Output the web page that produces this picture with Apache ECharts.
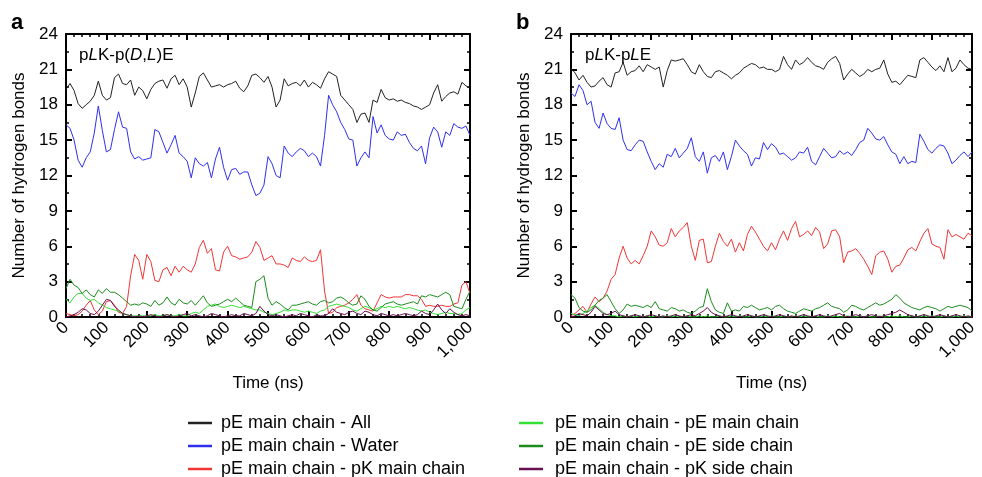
<!DOCTYPE html>
<html>
<head>
<meta charset="utf-8">
<script src="https://cdn.jsdelivr.net/npm/echarts@6/dist/echarts.min.js"></script>
<style>html,body{margin:0;padding:0;background:#fff}#c{width:982px;height:477px}</style>
</head>
<body>
<div id="c"></div>
<script>
// Time (ns)
var time = [0,10,20,30,40,50,60,70,80,90,100,110,120,130,140,150,160,170,180,190,200,210,220,230,240,250,260,270,280,290,300,310,320,330,340,350,360,370,380,390,400,410,420,430,440,450,460,470,480,490,500,510,520,530,540,550,560,570,580,590,600,610,620,630,640,650,660,670,680,690,700,710,720,730,740,750,760,770,780,790,800,810,820,830,840,850,860,870,880,890,900,910,920,930,940,950,960,970,980,990,1000];

var seriesNames = ['pE main chain - All','pE main chain - Water','pE main chain - pK main chain','pE main chain - pE main chain','pE main chain - pE side chain','pE main chain - pK side chain'];
var seriesColors = ['#222222','#2f2ff0','#f03535','#33e033','#1c8c1c','#6a1050'];

// Panel a: pLK-p(D,L)E
var aAll = [19.3,19.8,19.2,18.1,17.7,18.0,18.3,18.8,20.0,18.8,18.4,18.6,20.3,20.6,19.8,19.7,20.1,18.8,19.5,19.2,18.5,19.3,19.8,20.0,20.1,19.4,20.2,20.5,19.7,20.2,19.5,17.8,19.0,20.4,20.7,20.1,19.5,19.6,19.7,19.5,19.7,19.8,20.0,19.4,19.1,19.6,20.5,20.6,20.3,19.9,20.4,19.5,17.8,18.4,20.2,19.6,19.8,19.9,19.6,20.1,19.5,19.9,19.7,19.4,20.2,20.8,20.6,20.4,18.8,18.4,18.0,17.6,16.5,17.2,17.3,16.5,18.4,18.2,19.3,18.6,18.4,18.5,18.3,18.4,18.2,18.1,17.9,17.8,17.6,17.8,18.0,19.0,19.7,18.3,18.7,19.0,19.1,18.9,19.9,19.6,19.4];
var aWater = [16.3,16.0,15.0,13.3,12.7,13.5,14.0,15.6,17.9,15.8,14.0,14.2,15.9,17.4,16.1,16.0,14.0,13.4,13.6,13.3,13.4,13.5,15.9,15.7,14.8,13.9,14.6,15.4,13.9,13.6,13.2,11.8,13.5,13.0,12.8,13.1,11.8,13.4,14.4,12.7,11.6,12.5,12.6,12.1,12.3,12.3,11.2,10.3,10.5,11.2,13.6,13.0,12.0,11.8,14.5,13.9,13.6,14.0,14.3,14.1,13.6,13.9,13.6,12.8,15.4,18.8,18.0,17.4,16.5,15.9,15.1,15.0,12.8,13.5,14.0,13.5,17.0,15.6,16.3,15.4,15.1,15.0,15.7,15.4,15.5,14.8,14.3,14.1,14.5,13.0,15.2,16.1,15.7,14.4,15.7,15.4,16.4,16.1,16.0,16.2,15.4];
var aPKmain = [0.3,0.2,0.1,0.2,0.5,1.0,1.4,0.6,0.2,0.5,1.3,1.4,1.0,0.4,0.3,0.9,3.5,5.3,4.8,3.2,5.3,4.7,3.1,3.0,4.0,4.2,3.5,4.3,3.8,4.3,4.0,3.8,4.5,5.9,6.5,5.4,5.8,4.0,3.9,5.5,6.0,5.2,5.1,4.9,5.0,5.1,5.5,6.4,5.9,4.8,5.0,5.2,4.5,4.5,4.4,4.2,5.0,4.8,4.7,5.1,4.8,4.7,4.8,5.7,2.2,0.3,0.4,0.8,0.9,1.0,1.2,1.5,1.9,1.0,0.7,0.6,0.5,1.2,1.9,1.7,1.6,1.7,1.7,1.7,1.9,1.9,1.8,1.8,1.5,0.9,1.0,0.9,0.9,1.0,0.9,0.9,1.1,1.2,2.7,3.0,2.0];
var aPEmain = [1.5,1.2,1.7,2.0,2.0,1.6,1.4,1.5,1.2,1.0,0.8,0.7,0.6,0.5,0.3,0.2,0.1,0.1,0.1,0.1,0.1,0.1,0.2,0.1,0.1,0.2,0.1,0.1,0.2,0.1,0.1,0.3,0.4,0.3,0.6,0.9,1.0,1.1,0.9,0.8,0.9,1.0,0.9,0.8,0.9,0.8,0.7,0.6,0.6,0.4,0.3,0.2,0.3,0.4,0.6,0.5,0.6,0.6,0.5,0.4,0.5,0.4,0.3,0.5,0.6,0.9,1.0,1.1,1.0,0.9,0.8,0.6,0.5,0.7,0.9,0.8,0.6,0.7,0.9,0.8,0.9,0.8,0.9,0.8,0.7,0.8,0.7,0.6,0.5,0.6,0.4,0.3,0.2,0.3,0.4,0.3,0.3,0.2,0.3,0.6,0.8];
var aPEside = [2.4,3.2,2.7,2.5,2.0,2.3,1.9,1.7,2.3,2.0,2.4,2.1,2.1,1.9,1.6,1.3,1.0,1.1,1.0,1.2,1.1,0.9,1.4,1.0,1.2,1.7,1.2,1.0,1.5,1.2,1.1,1.4,1.0,1.4,1.8,1.2,0.9,1.0,1.1,1.3,1.5,1.3,1.6,1.3,1.0,0.9,0.8,3.0,3.2,3.5,1.6,1.0,1.3,1.1,0.8,0.6,1.0,1.0,1.1,1.2,1.3,1.1,1.0,1.3,1.4,1.2,1.3,1.6,1.7,1.5,1.2,1.0,1.1,1.8,1.5,0.9,0.6,0.5,0.8,1.1,1.2,1.3,1.1,1.0,1.1,1.2,1.3,1.1,1.8,1.7,1.9,1.8,1.7,1.9,2.1,1.9,0.9,0.8,0.7,1.5,2.2];
var aPKside = [0.0,0.1,0.2,0.4,0.7,0.6,0.3,0.2,0.5,1.0,1.5,1.4,0.9,0.6,0.3,0.2,0.1,0.0,0.1,0.0,0.1,0.2,0.1,0.0,0.1,0.2,0.1,0.0,0.1,0.2,0.3,0.1,0.2,0.1,0.0,0.1,0.3,0.2,0.1,0.0,0.1,0.2,0.1,0.1,0.3,0.2,0.1,0.3,0.9,0.5,0.2,0.1,0.2,0.1,0.0,0.1,0.2,0.1,0.3,0.2,0.1,0.0,0.2,0.1,0.1,0.3,0.7,0.4,0.3,0.2,0.4,0.5,0.3,0.2,0.5,0.4,0.2,0.1,0.3,0.2,0.1,0.2,0.1,0.2,0.3,0.2,0.1,0.2,0.5,0.3,0.2,0.6,1.1,0.6,0.3,0.7,0.4,0.2,0.1,0.2,0.1];

// Panel b: pLK-pLE
var bAll = [21.1,20.7,20.1,20.5,19.9,19.5,19.6,20.0,20.3,19.7,19.5,20.7,20.8,21.6,20.5,20.8,20.9,21.3,20.8,21.4,21.2,21.0,21.2,19.5,20.9,21.8,21.7,21.8,21.9,21.4,20.8,20.6,21.4,20.8,20.4,20.3,20.8,20.9,20.7,20.5,20.2,20.5,20.7,21.1,21.3,21.5,21.4,21.1,21.2,21.0,21.0,20.8,21.0,22.1,21.4,21.0,21.8,21.4,21.6,22.0,21.6,21.3,21.2,21.0,21.6,21.9,22.1,21.5,20.1,20.6,21.0,20.7,20.4,20.6,21.0,20.8,21.0,21.1,21.8,20.6,19.9,20.0,19.7,20.1,20.5,20.4,20.3,21.8,22.0,21.6,21.2,20.9,21.3,20.8,22.0,20.8,21.1,21.8,21.4,21.1,21.0];
var bWater = [19.0,18.7,19.7,19.2,18.0,18.3,16.5,16.0,17.3,16.4,16.0,15.9,16.9,15.0,14.2,14.1,14.6,15.0,14.9,14.0,13.2,12.5,13.0,12.7,13.8,13.6,14.3,13.5,13.9,14.3,15.2,13.6,13.2,14.0,12.2,13.5,13.7,13.2,14.0,12.5,13.6,15.0,14.5,14.1,13.8,12.8,13.5,13.4,14.8,14.2,14.7,14.4,13.8,13.9,13.6,13.3,13.5,14.0,13.9,14.4,13.2,12.9,13.6,14.3,13.9,13.5,13.6,14.1,13.8,14.0,13.7,14.2,14.8,15.0,16.0,15.6,15.1,15.0,15.3,14.6,14.0,13.8,13.0,13.6,13.0,13.2,13.1,15.5,14.9,14.2,13.9,14.3,14.6,14.5,13.9,13.0,13.3,13.7,14.0,13.6,14.0];
var bPKmain = [0.1,0.3,0.6,0.9,0.4,1.1,1.7,1.3,1.6,2.2,3.2,3.6,5.0,6.0,5.0,4.5,4.8,4.5,5.2,6.0,7.3,6.8,6.1,6.0,6.3,7.5,6.8,7.3,7.6,8.0,6.0,4.8,6.5,6.6,4.6,4.7,6.0,7.1,6.4,6.0,6.6,5.5,6.3,5.6,7.0,7.7,7.2,6.6,6.0,5.6,6.3,5.7,6.6,7.3,6.5,7.5,8.1,6.8,7.0,7.3,6.9,7.6,7.2,5.8,6.2,7.3,7.4,6.8,4.6,5.5,5.6,5.8,5.4,4.9,4.3,3.6,5.2,5.5,5.6,4.9,3.8,4.3,4.4,5.0,5.7,5.9,5.6,6.4,7.1,7.5,6.2,6.0,5.9,4.9,7.4,6.8,7.0,6.8,6.6,7.1,6.9];
var bPEmain = [0.3,0.2,0.1,0.3,0.5,0.8,1.0,0.7,0.4,0.2,0.1,0.1,0.0,0.1,0.0,0.1,0.0,0.1,0.0,0.1,0.0,0.1,0.0,0.0,0.1,0.0,0.1,0.0,0.0,0.1,0.0,0.0,0.1,0.0,0.1,0.0,0.0,0.1,0.0,0.0,0.1,0.0,0.1,0.0,0.0,0.1,0.0,0.0,0.1,0.0,0.1,0.0,0.0,0.1,0.0,0.0,0.1,0.0,0.1,0.0,0.0,0.1,0.0,0.0,0.1,0.0,0.1,0.0,0.0,0.1,0.0,0.0,0.1,0.0,0.1,0.0,0.0,0.1,0.0,0.0,0.1,0.0,0.1,0.0,0.0,0.1,0.0,0.0,0.1,0.0,0.1,0.0,0.0,0.1,0.0,0.0,0.1,0.0,0.1,0.0,0.0];
var bPEside = [1.9,1.6,0.8,0.5,0.4,0.6,1.0,1.4,1.6,1.9,1.3,0.7,0.3,0.6,1.1,0.9,1.0,0.9,0.8,1.0,0.8,1.3,0.7,0.6,0.5,0.8,0.7,0.5,0.6,0.4,0.3,0.5,0.8,0.9,2.4,1.3,0.6,0.4,0.3,1.2,0.5,0.6,0.5,0.9,0.8,1.0,0.8,0.6,0.7,0.8,0.6,0.9,1.0,0.7,0.5,0.4,0.3,0.5,0.7,0.6,0.5,0.7,0.8,1.0,1.2,0.9,0.8,0.7,0.4,0.6,1.0,0.9,0.7,0.6,0.8,1.0,1.2,1.0,1.1,1.3,1.5,1.9,1.6,1.2,1.0,0.8,0.7,0.6,0.8,0.9,0.8,0.7,0.5,0.7,0.9,0.8,0.9,1.0,0.9,0.8,0.5];
var bPKside = [0.0,0.1,0.3,0.2,0.1,0.4,0.9,0.6,0.3,0.2,0.3,0.5,0.2,0.1,0.0,0.1,0.2,0.1,0.0,0.1,0.2,0.1,0.0,0.1,0.0,0.1,0.2,0.1,0.0,0.1,0.2,0.1,0.3,0.5,0.8,0.4,0.2,0.1,0.0,0.1,0.2,0.1,0.0,0.1,0.2,0.1,0.0,0.1,0.2,0.1,0.0,0.1,0.2,0.1,0.0,0.1,0.0,0.1,0.2,0.1,0.0,0.1,0.2,0.1,0.0,0.1,0.2,0.3,0.1,0.0,0.1,0.2,0.1,0.0,0.1,0.2,0.1,0.0,0.1,0.2,0.3,0.4,0.6,0.4,0.2,0.1,0.0,0.1,0.2,0.1,0.0,0.1,0.2,0.1,0.0,0.1,0.2,0.1,0.0,0.1,0.0];

var panelA = [aAll,aWater,aPKmain,aPEmain,aPEside,aPKside];
var panelB = [bAll,bWater,bPKmain,bPEmain,bPEside,bPKside];

var FONT = '"Liberation Sans", Arial, Helvetica, sans-serif';

function pairs(vals){ return time.map(function(t,i){ return [t, vals[i]]; }); }

function xAxisDef(gridIndex, pos, labels){
  return {
    type:'value', gridIndex:gridIndex, position:pos, min:0, max:1000, interval:100,
    axisLine:{show:true, onZero:false, lineStyle:{color:'#000', width:2}},
    axisTick:{show:true, inside:true, length:6, lineStyle:{color:'#000', width:2}},
    minorTick:{show:true, splitNumber:5, length:3, lineStyle:{color:'#000', width:1.5}},
    splitLine:{show:false},
    axisLabel:{show:labels, rotate:45, margin:8, color:'#000', fontSize:17, fontFamily:FONT,
      formatter:function(v){ return v >= 1000 ? '1,000' : String(v); }},
    name: labels ? 'Time (ns)' : '', nameLocation:'middle', nameGap:58,
    nameTextStyle:{color:'#000', fontSize:17, fontFamily:FONT}
  };
}
function yAxisDef(gridIndex, pos, labels){
  return {
    type:'value', gridIndex:gridIndex, position:pos, min:0, max:24, interval:3,
    axisLine:{show:true, onZero:false, lineStyle:{color:'#000', width:2}},
    axisTick:{show:true, inside:true, length:6, lineStyle:{color:'#000', width:2}},
    minorTick:{show:true, splitNumber:2, length:3, lineStyle:{color:'#000', width:1.5}},
    splitLine:{show:false},
    axisLabel:{show:labels, margin:8, color:'#000', fontSize:17, fontFamily:FONT},
    name: labels ? 'Number of hydrogen bonds' : '', nameLocation:'middle', nameGap:38,
    nameTextStyle:{color:'#000', fontSize:17, fontFamily:FONT}
  };
}

var series = [];
[panelA, panelB].forEach(function(panel, p){
  panel.forEach(function(vals, k){
    series.push({
      name: seriesNames[k], type:'line', xAxisIndex: p*2, yAxisIndex: p*2,
      data: pairs(vals), symbol:'none', showSymbol:false, animation:false,
      lineStyle:{color: seriesColors[k], width:1}, itemStyle:{color: seriesColors[k]}
    });
  });
});

function legendDef(names, left, pad){
  return {
    orient:'vertical', left:left, top:414, height:70, padding:0, itemGap:5, itemWidth:24, itemHeight:2.5, icon:'rect',
    data:names, selectedMode:false,
    textStyle:{color:'#000', fontSize:18, fontFamily:FONT, lineHeight:18, padding:[0,0,0,pad]}
  };
}

var rich = {
  n:{fontSize:17, fontFamily:FONT, color:'#000', fontWeight:'normal'},
  i:{fontSize:17, fontFamily:FONT, color:'#000', fontWeight:'normal', fontStyle:'italic'}
};

var option = {
  backgroundColor:'#fff',
  animation:false,
  title:[
    {text:'a', left:11, top:12, padding:0, textStyle:{fontSize:22, fontWeight:'bold', fontFamily:FONT, color:'#000'}},
    {text:'b', left:516, top:12, padding:0, textStyle:{fontSize:22, fontWeight:'bold', fontFamily:FONT, color:'#000'}},
    {text:'{n|p}{i|L}{n|K-p(}{i|D}{n|,}{i|L}{n|)E}', left:79, top:47, padding:0, textStyle:{fontWeight:'normal', rich:rich}},
    {text:'{n|p}{i|L}{n|K-p}{i|L}{n|E}', left:585, top:47, padding:0, textStyle:{fontWeight:'normal', rich:rich}}
  ],
  legend:[
    legendDef(seriesNames.slice(0,3), 188, 4),
    legendDef(seriesNames.slice(3,6), 519, 7)
  ],
  grid:[
    {left:66, top:34, width:404, height:283, containLabel:false},
    {left:571, top:34, width:401, height:283, containLabel:false}
  ],
  xAxis:[ xAxisDef(0,'bottom',true), xAxisDef(0,'top',false), xAxisDef(1,'bottom',true), xAxisDef(1,'top',false) ],
  yAxis:[ yAxisDef(0,'left',true), yAxisDef(0,'right',false), yAxisDef(1,'left',true), yAxisDef(1,'right',false) ],
  series: series
};

var chart = echarts.init(document.getElementById('c'), null, {renderer:'canvas'});
chart.setOption(option);
</script>
</body>
</html>
